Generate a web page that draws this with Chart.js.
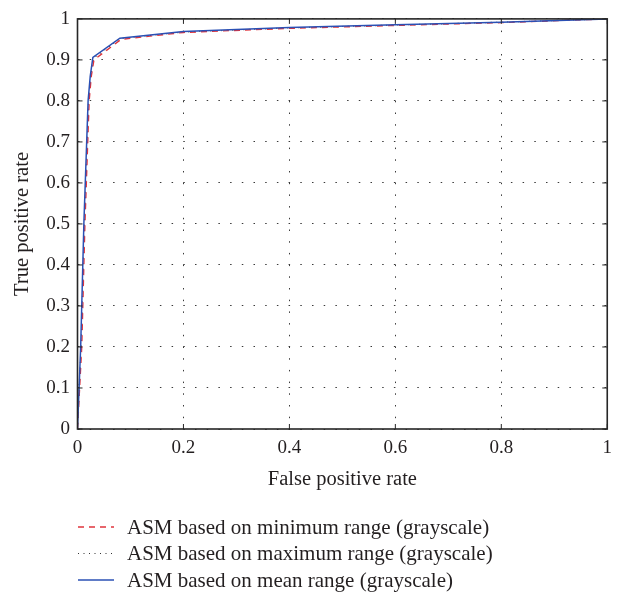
<!DOCTYPE html>
<html>
<head>
<meta charset="utf-8">
<title>ROC</title>
<script src="https://cdn.jsdelivr.net/npm/chart.js"></script>
<style>
  body { margin: 0; background: #fff; }
  canvas { display: block; }
</style>
</head>
<body>
<canvas id="grafico" width="620" height="596"></canvas>
<script>
// valores
const fprMin = [0, 0.004, 0.008, 0.014, 0.022, 0.026, 0.031, 0.082, 0.2, 0.4, 0.6, 0.8, 1];
const tprMin = [0, 0.1, 0.2, 0.5, 0.8, 0.86, 0.9, 0.95, 0.967, 0.977, 0.984, 0.991, 1];
const fprMax = [0, 0.003, 0.007, 0.013, 0.021, 0.025, 0.03, 0.08, 0.2, 0.4, 0.6, 0.8, 1];
const tprMax = [0, 0.1, 0.2, 0.5, 0.8, 0.86, 0.904, 0.952, 0.968, 0.978, 0.985, 0.992, 1];
const fprMean = [0, 0.003, 0.006, 0.012, 0.02, 0.024, 0.029, 0.08, 0.2, 0.4, 0.6, 0.8, 1];
const tprMean = [0, 0.1, 0.2, 0.5, 0.8, 0.86, 0.906, 0.953, 0.969, 0.979, 0.986, 0.992, 1];

const xTicks = [0, 0.2, 0.4, 0.6, 0.8, 1];
const yTicks = [0, 0.1, 0.2, 0.3, 0.4, 0.5, 0.6, 0.7, 0.8, 0.9, 1];

const labels = [
  'ASM based on minimum range (grayscale)',
  'ASM based on maximum range (grayscale)',
  'ASM based on mean range (grayscale)'
];

const pares = (xs, ys) => xs.map((x, i) => ({ x: x, y: ys[i] }));
const serif = 'Liberation Serif';
const txt = '#231f20';

// moldura, ticks para dentro e legenda
const extras = {
  id: 'extras',
  afterDraw(chart) {
    const { ctx, chartArea: a, scales: { x, y } } = chart;
    ctx.save();
    ctx.strokeStyle = '#262626';
    ctx.lineWidth = 1;
    ctx.setLineDash([]);
    const tl = 5;
    ctx.beginPath();
    xTicks.forEach(v => {
      const px = x.getPixelForValue(v);
      ctx.moveTo(px, a.bottom); ctx.lineTo(px, a.bottom - tl);
      ctx.moveTo(px, a.top); ctx.lineTo(px, a.top + tl);
    });
    yTicks.forEach(v => {
      const py = y.getPixelForValue(v);
      ctx.moveTo(a.left, py); ctx.lineTo(a.left + tl, py);
      ctx.moveTo(a.right, py); ctx.lineTo(a.right - tl, py);
    });
    ctx.stroke();
    ctx.lineWidth = 1.6;
    ctx.strokeRect(a.left, a.top, a.right - a.left, a.bottom - a.top);

    // legenda
    const rows = [527, 553.5, 580];
    chart.data.datasets.forEach((ds, i) => {
      ctx.strokeStyle = ds.borderColor;
      ctx.lineWidth = ds.legendWidth;
      ctx.setLineDash(ds.borderDash || []);
      ctx.beginPath();
      ctx.moveTo(78, rows[i]);
      ctx.lineTo(114, rows[i]);
      ctx.stroke();
      ctx.setLineDash([]);
      ctx.fillStyle = txt;
      ctx.font = '21px "' + serif + '"';
      ctx.textBaseline = 'middle';
      ctx.textAlign = 'left';
      ctx.fillText(ds.label, 127, rows[i] + 1);
    });
    ctx.restore();
  }
};

new Chart(document.getElementById('grafico').getContext('2d'), {
  type: 'line',
  data: {
    datasets: [
      { label: labels[0], data: pares(fprMin, tprMin), borderColor: '#e0343c', borderWidth: 1.4, borderDash: [6, 5], legendWidth: 1.6, order: 2 },
      { label: labels[1], data: pares(fprMax, tprMax), borderColor: '#333333', borderWidth: 1.2, borderDash: [1, 4.5], legendWidth: 1.2, order: 3 },
      { label: labels[2], data: pares(fprMean, tprMean), borderColor: '#2b50b4', borderWidth: 1.5, legendWidth: 1.6, order: 1 }
    ]
  },
  options: {
    responsive: false,
    animation: false,
    events: [],
    layout: { padding: { left: 0, top: 12.5, right: 12, bottom: 97 } },
    elements: { point: { radius: 0 }, line: { tension: 0 } },
    plugins: { legend: { display: false }, tooltip: { enabled: false } },
    scales: {
      x: {
        type: 'linear', min: 0, max: 1,
        afterFit: s => { s.height = 70; },
        afterBuildTicks: s => { s.ticks = xTicks.map(v => ({ value: v })); },
        grid: { color: '#3a3a3a', lineWidth: 1, drawTicks: false },
        border: { display: false, dash: [1.5, 10.2] },
        ticks: { padding: 8, color: txt, font: { family: serif, size: 19 }, callback: v => String(v), maxRotation: 0 },
        title: { display: true, text: 'False positive rate', color: txt, font: { family: serif, size: 20.5 }, padding: { bottom: 7 } }
      },
      y: {
        type: 'linear', min: 0, max: 1,
        afterFit: s => { s.width = 77.5; },
        afterBuildTicks: s => { s.ticks = yTicks.map(v => ({ value: v })); },
        grid: { color: '#3a3a3a', lineWidth: 1, drawTicks: false },
        border: { display: false, dash: [1.5, 10.2] },
        ticks: { padding: 7.5, color: txt, font: { family: serif, size: 19 }, callback: v => String(v) },
        title: { display: true, text: 'True positive rate', color: txt, font: { family: serif, size: 20.5 }, padding: { top: 10 } }
      }
    }
  },
  plugins: [extras]
});
</script>
</body>
</html>
